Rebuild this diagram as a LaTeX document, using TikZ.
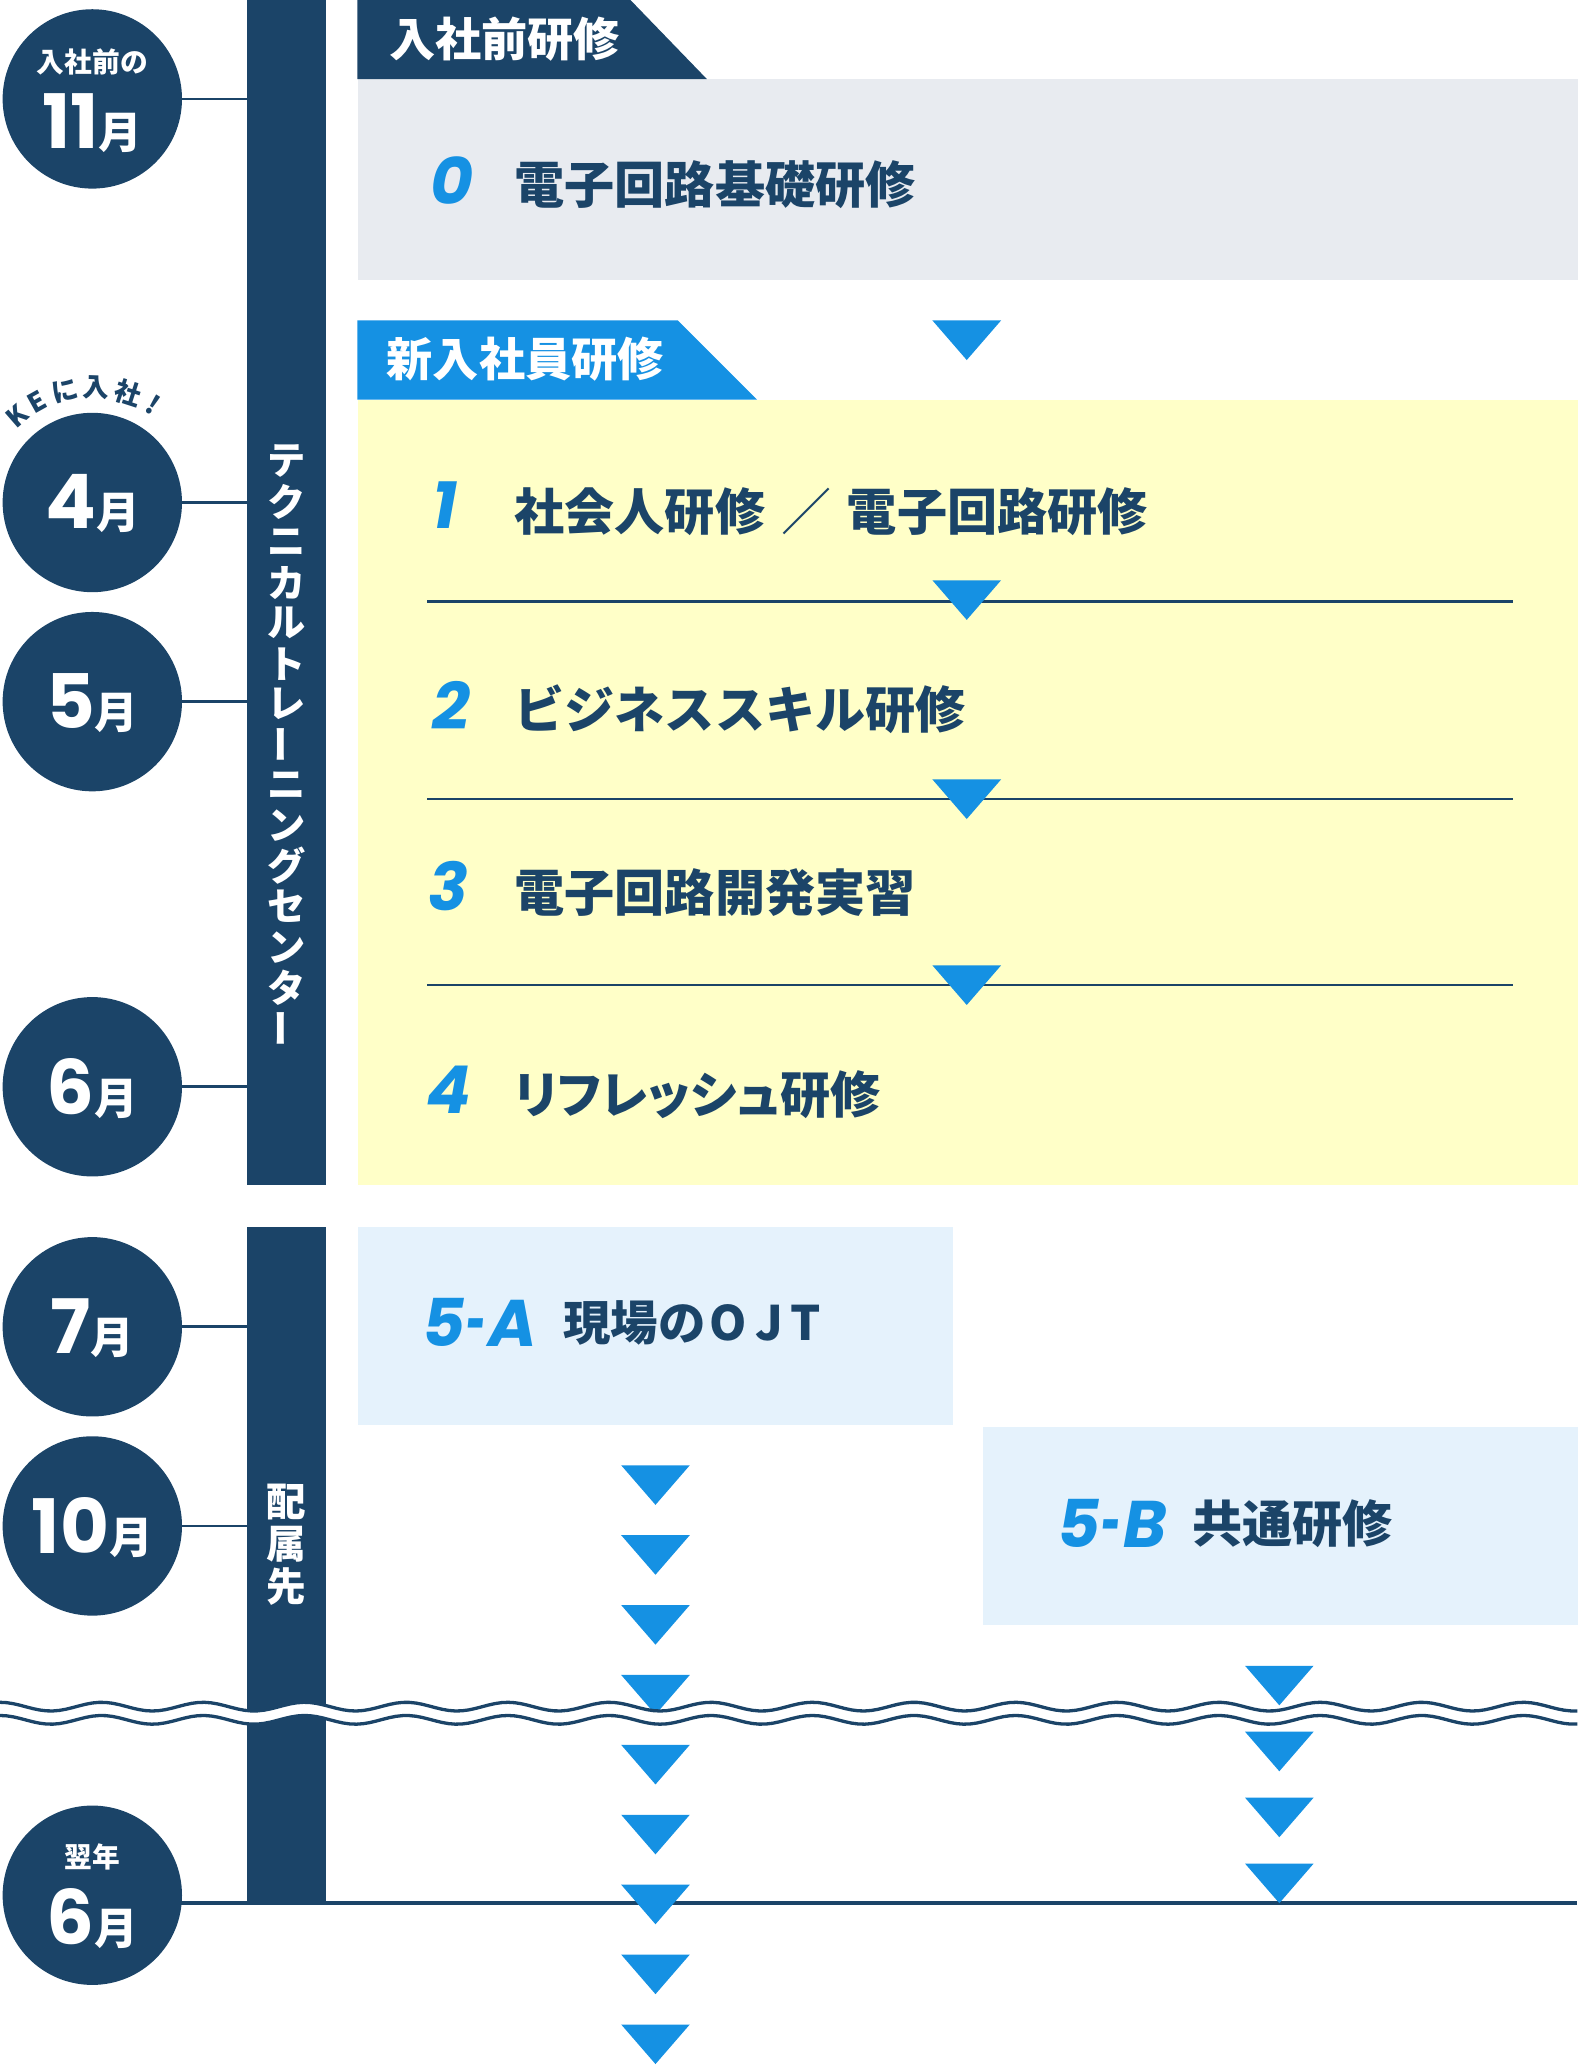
\documentclass[tikz,border=0pt]{standalone}
\usepackage{fontspec}
\newfontfamily\jp{Noto Sans CJK JP}
\newfontfamily\digits{Poppins}
\usetikzlibrary{positioning}
\definecolor{navy}{HTML}{1B4468}
\definecolor{sky}{HTML}{1591E3}
\definecolor{lemon}{HTML}{FFFFC8}
\definecolor{mist}{HTML}{E8EBF0}
\definecolor{ice}{HTML}{E5F2FC}
\tikzset{>=stealth}
\tikzset{
  month/.style={circle, fill=navy, minimum size=136, inner sep=0},
  mtext/.style={text=white, inner sep=0, align=center},
  bar/.style={fill=navy, inner sep=0, minimum width=60, anchor=north west},
  panel/.style={inner sep=0, anchor=north west},
  tick/.style={navy, line width=2},
  sep/.style={navy, line width=1.8},
  stepno/.style={text=sky, font=\digits\bfseries\itshape\fontsize{50}{50}\selectfont, inner sep=0},
  course/.style={text=navy, font=\jp\bfseries\fontsize{38}{38}\selectfont, inner sep=0, anchor=west},
  tabtext/.style={text=white, font=\jp\bfseries\fontsize{35}{35}\selectfont, inner sep=0, anchor=west},
  vtext/.style={text=white, font=\jp\bfseries\fontsize{29}{29}\selectfont, inner sep=0},
  downtri/.pic={\fill[sky] (-26,0) -- (26,0) -- (0,30) -- cycle;}
}
\newcommand\mlabel[1]{{\digits\bfseries\fontsize{57}{57}\selectfont #1}{\jp\bfseries\fontsize{33}{33}\selectfont 月}}
\newcommand\jpsmall{\jp\bfseries\fontsize{21}{21}\selectfont}
\newcommand\dash{\hspace{1pt}\scalebox{0.5}[1]{-}\hspace{2pt}}

\begin{document}
\begin{tikzpicture}[x=1pt,y=-1pt]
\useasboundingbox (0,0) rectangle (1196,1568);

% panels
\node[panel, fill=mist, minimum width=925, minimum height=152] (pre) at (271,60) {};
\node[panel, fill=lemon, minimum width=925, minimum height=595] (fresh) at (271,303) {};
\node[panel, fill=ice, minimum width=451, minimum height=150] (ojt) at (271,930) {};
\node[panel, fill=ice, minimum width=451, minimum height=150] (common) at (745,1082) {};

% tabs
\fill[navy] (271,0) -- (478,0) -- (536,60) -- (271,60) -- cycle;
\node[tabtext] (tab1) at (295,30) {入社前研修};
\fill[sky] (271,243) -- (514,243) -- (574,303) -- (271,303) -- cycle;
\node[tabtext] (tab2) at (293,272) {新入社員研修};

% courses
\node[stepno] (n0) at (343,137) {0};
\node[course] (c0) at (390,140) {電子回路基礎研修};
\node[stepno] (n1) at (337,383) {1};
\node[course] (c1) at (390,388) {社会人研修\hspace{12pt}{\mdseries ／}\hspace{12pt}電子回路研修};
\node[stepno] (n2) at (342,535) {2};
\node[course] (c2) at (390,538) {ビジネススキル研修};
\node[stepno] (n3) at (340,672) {3};
\node[course] (c3) at (390,677) {電子回路開発実習};
\node[stepno] (n4) at (340,826) {4};
\node[course, font=\jp\bfseries\fontsize{38}{38}\selectfont\addfontfeatures{RawFeature=+palt}] (c4) at (390,830) {リフレッシュ研修};
\node[stepno] (n5a) at (364,1003) {5\dash A};
\node[course, font=\jp\bfseries\fontsize{36}{36}\selectfont] (c5a) at (427,1003) {現場の\hspace{3pt}O\hspace{6pt}J\hspace{6pt}T};
\node[stepno] (n5b) at (843,1155) {5\dash B};
\node[course] (c5b) at (904,1155) {共通研修};

% separators
\foreach \y in {456,606,747}
  \draw[sep] (324,\y) -- (1147,\y);

% time axis
\coordinate (base) at (70,1443);
\coordinate (edge) at (1196,1443);
\draw[navy, line width=3] (base) -- (edge);
\node[bar, minimum height=898] (bar1) at (187,0) {};
\node[bar, minimum height=514] (bar2) at (187,930) {};
\node[month] (m11) at (70,75) {};
\node[month] (m4) at (70,381) {};
\node[month] (m5) at (70,532) {};
\node[month] (m6) at (70,824) {};
\node[month] (m7) at (70,1006) {};
\node[month] (m10) at (70,1157) {};
\node[month] (my6) at (70,1437) {};
\foreach \m in {m11,m4,m5,m6}
  \draw[tick] (\m) -- (\m -| bar1.west);
\foreach \m in {m7,m10}
  \draw[tick] (\m) -- (\m -| bar2.west);

\foreach \c/\r [count=\i] in {テ/0,ク/0,ニ/0,カ/0,ル/0,ト/0,レ/0,ー/90,ニ/0,ン/0,グ/0,セ/0,ン/0,タ/0,ー/90}
  \node[vtext, rotate=\r] (tc\i) at (217,{319+30.7*\i}) {\c};
\foreach \c [count=\i] in {配,属,先}
  \node[vtext, font=\jp\bfseries\fontsize{30}{30}\selectfont] (hz\i) at (217,{1107+32*\i}) {\c};

% month labels
\node[mtext, font=\jpsmall] (m11a) at (70,47) {入社前の};
\node[mtext] (m11b) at (70,93) {\mlabel{11}};
\node[mtext] (m4a) at (70,382) {\mlabel{4}};
\node[mtext] (m5a) at (70,533) {\mlabel{5}};
\node[mtext] (m6a) at (70,825) {\mlabel{6}};
\node[mtext] (m7a) at (70,1007) {\mlabel{7}};
\node[mtext] (m10a) at (70,1158) {\mlabel{10}};
\node[mtext, font=\jpsmall] (my6a) at (70,1408) {翌年};
\node[mtext] (my6b) at (70,1455) {\mlabel{6}};
\foreach \c/\a [count=\i] in {K/131,E/119,に/104,入/88,社/72,!/58}
  \node[text=navy, font=\jp\bfseries\fontsize{20}{20}\selectfont, inner sep=0, rotate=\a-90] (ke\i) at ({70+87*cos(\a)},{381-87*sin(\a)}) {\c};

% arrows
\pic at (733,243) {downtri};
\foreach \y in {440,591,732}
  \pic at (733,\y) {downtri};
\foreach \y in {1111,1164,...,1535}
  \pic at (497,\y) {downtri};
\foreach \y in {1263,1313,...,1413}
  \pic at (970,\y) {downtri};

% break mark
\fill[white] plot[domain=0:1196,samples=240] (\x,{1294-3.3*cos(\x/77*360)})
  -- plot[domain=1196:0,samples=240] (\x,{1304-3.3*cos(\x/77*360)}) -- cycle;
\draw[navy, line width=2.5] plot[domain=0:1196,samples=240] (\x,{1294-3.3*cos(\x/77*360)});
\draw[navy, line width=2.5] plot[domain=0:1196,samples=240] (\x,{1304-3.3*cos(\x/77*360)});
\end{tikzpicture}
\end{document}
